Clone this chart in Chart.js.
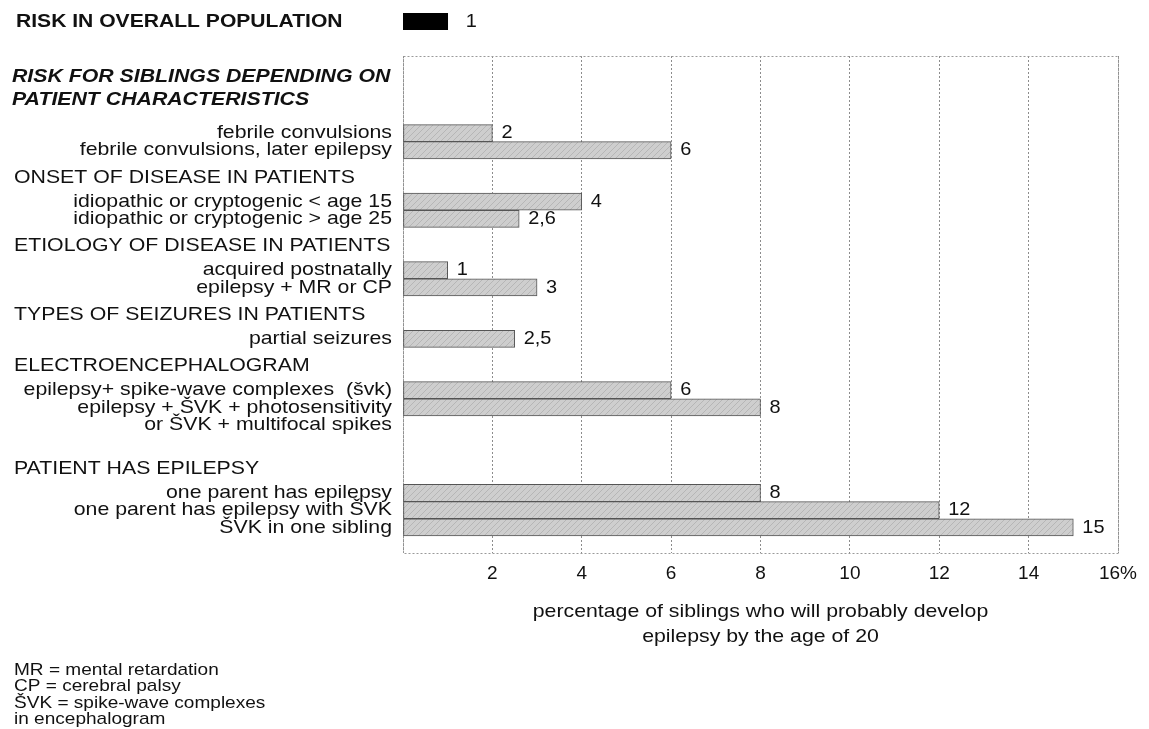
<!DOCTYPE html>
<html>
<head>
<meta charset="utf-8">
<script src="https://cdn.jsdelivr.net/npm/chart.js@4.4.1/dist/chart.umd.min.js"></script>
<style>
  html, body { margin: 0; padding: 0; background: #fff; }
  #wrap { position: relative; width: 1149px; height: 729px; }
  canvas { position: absolute; left: 0; top: 0; }
</style>
</head>
<body>
<div id="wrap">
  <canvas id="chart-main" width="1149" height="729"></canvas>
  <canvas id="chart-overall" width="1149" height="45"></canvas>
</div>
<script>
// ---- data ----
const overallLabel = "RISK IN OVERALL POPULATION";
const overallValue = [1];

const siblingsTitle = ["RISK FOR SIBLINGS DEPENDING ON", "PATIENT CHARACTERISTICS"];

// one entry per row of the category axis ("" = empty row)
const rowLabels = [
  "", "", "", "",
  "febrile convulsions",
  "febrile convulsions, later epilepsy",
  "", "",
  "idiopathic or cryptogenic < age 15",
  "idiopathic or cryptogenic > age 25",
  "", "",
  "acquired postnatally",
  "epilepsy + MR or CP",
  "", "",
  "partial seizures",
  "", "",
  "epilepsy+ spike-wave complexes  (švk)",
  "epilepsy + ŠVK + photosensitivity",
  "or ŠVK + multifocal spikes",
  "", "", "",
  "one parent has epilepsy",
  "one parent has epilepsy with ŠVK",
  "ŠVK in one sibling",
  "",
];

const rowValues = [
  null, null, null, null,
  2, 6,
  null, null,
  4, 2.6,
  null, null,
  1, 3,
  null, null,
  2.5,
  null, null,
  6, 8, null,
  null, null, null,
  8, 12, 15,
  null,
];

// group heading -> first row it sits above
const groupHeaders = [
  ["ONSET OF DISEASE IN PATIENTS", "idiopathic or cryptogenic < age 15"],
  ["ETIOLOGY OF DISEASE IN PATIENTS", "acquired postnatally"],
  ["TYPES OF SEIZURES IN PATIENTS", "partial seizures"],
  ["ELECTROENCEPHALOGRAM", "epilepsy+ spike-wave complexes  (švk)"],
  ["PATIENT HAS EPILEPSY", "one parent has epilepsy"],
];

const xMin = 0;
const xMax = 16;
const xStep = 2;

const axisTitle = ["percentage of siblings who will probably develop", "epilepsy by the age of 20"];

const footnotes = [
  "MR = mental retardation",
  "CP = cerebral palsy",
  "ŠVK = spike-wave complexes",
  "in encephalogram",
];

// ---- helpers ----
const FONT = '"Liberation Sans", Arial, sans-serif';
const INK = "#111";
const SX = 1.12; // the scan is a bit wider than Arial

function drawText(ctx, text, x, y, align, font, sx) {
  ctx.save();
  ctx.font = font;
  ctx.fillStyle = INK;
  ctx.textBaseline = "middle";
  ctx.textAlign = align;
  ctx.translate(x, y);
  ctx.scale(sx, 1);
  ctx.fillText(text, 0, 0);
  ctx.restore();
}

function fmtValue(v) {
  return String(v).replace(".", ",");
}

function makeHatch(ctx) {
  const c = document.createElement("canvas");
  c.width = 6;
  c.height = 6;
  const g = c.getContext("2d");
  g.fillStyle = "#cecece";
  g.fillRect(0, 0, 6, 6);
  g.strokeStyle = "#b6b6b6";
  g.lineWidth = 1;
  g.beginPath();
  g.moveTo(-1, 7);
  g.lineTo(7, -1);
  g.stroke();
  return ctx.createPattern(c, "repeat");
}

// ---- main chart plugin: left labels, headings, value labels, frame ----
const mainDecor = {
  id: "mainDecor",
  beforeDatasetsDraw(chart) {
    const { ctx, chartArea: a } = chart;
    ctx.save();
    ctx.strokeStyle = "#9a9a9a";
    ctx.lineWidth = 1;
    ctx.setLineDash([2, 2]);
    ctx.strokeRect(a.left + 0.5, a.top + 0.5, a.right - a.left, a.bottom - a.top);
    ctx.restore();
  },
  afterDatasetsDraw(chart) {
    const { ctx, chartArea: a } = chart;
    const y = chart.scales.y;
    const x = chart.scales.x;
    const pitch = y.getPixelForValue(1) - y.getPixelForValue(0);
    const labelFont = "19px " + FONT;

    // title of the sibling section
    const tFont = "italic bold 19px " + FONT;
    drawText(ctx, siblingsTitle[0], 12, a.top + 21, "left", tFont, SX);
    drawText(ctx, siblingsTitle[1], 12, a.top + 44, "left", tFont, SX);

    // row labels
    rowLabels.forEach((lab, i) => {
      if (!lab) return;
      drawText(ctx, lab, 392, y.getPixelForValue(i), "right", labelFont, SX);
    });

    // group headings
    groupHeaders.forEach(([text, anchor]) => {
      const idx = rowLabels.indexOf(anchor);
      const py = y.getPixelForValue(idx) - 1.4 * pitch;
      drawText(ctx, text, 14, py, "left", labelFont, SX);
    });

    // value labels
    rowValues.forEach((v, i) => {
      if (v === null) return;
      drawText(ctx, fmtValue(v), x.getPixelForValue(v) + 9, y.getPixelForValue(i), "left", labelFont, 1.05);
    });

    // axis title
    const cx = (a.left + a.right) / 2;
    drawText(ctx, axisTitle[0], cx, a.bottom + 59, "center", labelFont, SX);
    drawText(ctx, axisTitle[1], cx, a.bottom + 84, "center", labelFont, SX);

    // footnotes
    const fFont = "17px " + FONT;
    footnotes.forEach((t, i) => {
      drawText(ctx, t, 14, 670 + i * 16.5, "left", fFont, SX);
    });
  },
};

const mainCtx = document.getElementById("chart-main").getContext("2d");
new Chart(mainCtx, {
  type: "bar",
  data: {
    labels: rowLabels,
    datasets: [
      {
        data: rowValues,
        backgroundColor: makeHatch(mainCtx),
        borderColor: "#555",
        borderWidth: 1,
        borderSkipped: false,
        barPercentage: 1,
        categoryPercentage: 1,
      },
    ],
  },
  options: {
    indexAxis: "y",
    responsive: false,
    animation: false,
    layout: { padding: { left: 403, right: 31, top: 56, bottom: 136 } },
    plugins: { legend: { display: false }, tooltip: { enabled: false } },
    scales: {
      y: { display: false },
      x: {
        min: xMin,
        max: xMax,
        z: 1,
        afterFit: (scale) => {
          scale.height = 40;
        },
        grid: { color: "rgba(0,0,0,0.45)", lineWidth: 1, drawTicks: false },
        border: { display: false, dash: [2, 2] },
        ticks: {
          stepSize: xStep,
          padding: 9,
          color: INK,
          font: { family: FONT, size: 19 },
          callback: (v) => (v === xMin ? "" : v === xMax ? v + "%" : v),
        },
      },
    },
  },
  plugins: [mainDecor],
});

// ---- overall population bar ----
const overallDecor = {
  id: "overallDecor",
  afterDatasetsDraw(chart) {
    const { ctx } = chart;
    const x = chart.scales.x;
    const y = chart.scales.y;
    const py = y.getPixelForValue(0);
    drawText(ctx, overallLabel, 16, py, "left", "bold 19px " + FONT, 1.11);
    drawText(ctx, fmtValue(overallValue[0]), x.getPixelForValue(overallValue[0]) + 18, py, "left", "19px " + FONT, 1.05);
  },
};

new Chart(document.getElementById("chart-overall"), {
  type: "bar",
  data: {
    labels: [overallLabel],
    datasets: [
      {
        data: overallValue,
        backgroundColor: "#000",
        borderWidth: 0,
        barPercentage: 1,
        categoryPercentage: 1,
      },
    ],
  },
  options: {
    indexAxis: "y",
    responsive: false,
    animation: false,
    layout: { padding: { left: 403, right: 31, top: 13, bottom: 15 } },
    plugins: { legend: { display: false }, tooltip: { enabled: false } },
    scales: {
      y: { display: false },
      x: { display: false, min: xMin, max: xMax },
    },
  },
  plugins: [overallDecor],
});
</script>
</body>
</html>
